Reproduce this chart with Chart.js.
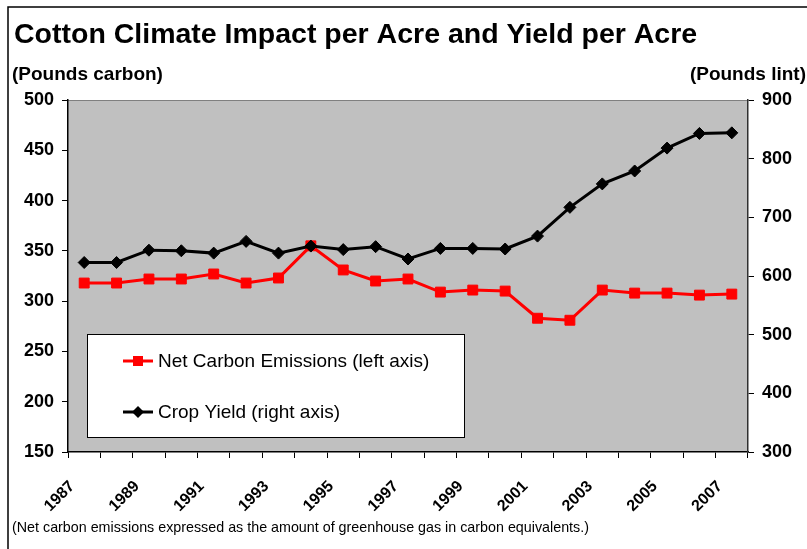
<!DOCTYPE html>
<html>
<head>
<meta charset="utf-8">
<script src="https://cdn.jsdelivr.net/npm/chart.js@4/dist/chart.umd.min.js"></script>
<style>
	body { margin: 0; background: #ffffff; }
	#wrap { width: 807px; height: 549px; }
</style>
</head>
<body>
<div id="wrap"><canvas id="myChart" width="807" height="549"></canvas></div>
<script>
// données
const years = ['1987', '1988', '1989', '1990', '1991', '1992', '1993', '1994', '1995', '1996', '1997',
	'1998', '1999', '2000', '2001', '2002', '2003', '2004', '2005', '2006', '2007'];
const carbon = [318, 318, 322, 322, 327, 318, 323, 355, 331, 320, 322, 309, 311, 310, 283, 281, 311, 308, 308, 306, 307];
const cropYield = [623, 623, 644, 643, 639, 659, 639, 651, 645, 650, 629, 647, 647, 646, 668, 717, 757, 779, 818, 843, 844];

const titre = 'Cotton Climate Impact per Acre and Yield per Acre';
const titreGauche = '(Pounds carbon)';
const titreDroite = '(Pounds lint)';
const noteBas = '(Net carbon emissions expressed as the amount of greenhouse gas in carbon equivalents.)';
const legendeCarbon = 'Net Carbon Emissions (left axis)';
const legendeYield = 'Crop Yield (right axis)';

const police = '"Liberation Sans", Arial, sans-serif';

// fond gris + cadre + textes + légende
const decor = {
	id: 'decor',
	beforeDraw: function(chart) {
		var ctx = chart.ctx;
		var a = chart.chartArea;
		ctx.save();
		ctx.fillStyle = '#c0c0c0';
		ctx.fillRect(a.left, a.top, a.right - a.left, a.bottom - a.top);
		ctx.strokeStyle = '#808080';
		ctx.lineWidth = 1;
		ctx.beginPath();
		ctx.moveTo(a.left, a.top + 0.5);
		ctx.lineTo(a.right, a.top + 0.5);
		ctx.stroke();
		ctx.restore();
	},
	beforeDatasetsDraw: function(chart) {
		var ctx = chart.ctx;
		var a = chart.chartArea;
		var bx = a.left + 19, by = a.top + 234, bw = 377, bh = 103;
		ctx.save();
		ctx.fillStyle = '#ffffff';
		ctx.fillRect(bx, by, bw, bh);
		ctx.strokeStyle = '#000000';
		ctx.lineWidth = 1;
		ctx.strokeRect(bx + 0.5, by + 0.5, bw, bh);

		// entrées de légende
		var items = [
			{ color: '#ff0000', marker: 'rect', text: legendeCarbon, y: by + 27 },
			{ color: '#000000', marker: 'diamond', text: legendeYield, y: by + 78 }
		];
		items.forEach(function(it) {
			ctx.strokeStyle = it.color;
			ctx.fillStyle = it.color;
			ctx.lineWidth = 3;
			ctx.beginPath();
			ctx.moveTo(bx + 36, it.y);
			ctx.lineTo(bx + 66, it.y);
			ctx.stroke();
			var cx = bx + 51;
			ctx.beginPath();
			if (it.marker === 'rect') {
				ctx.rect(cx - 5, it.y - 5, 10, 10);
			} else {
				ctx.moveTo(cx, it.y - 6);
				ctx.lineTo(cx + 6, it.y);
				ctx.lineTo(cx, it.y + 6);
				ctx.lineTo(cx - 6, it.y);
				ctx.closePath();
			}
			ctx.fill();
			ctx.fillStyle = '#000000';
			ctx.font = '19px ' + police;
			ctx.textAlign = 'left';
			ctx.textBaseline = 'middle';
			ctx.fillText(it.text, bx + 71, it.y + 1);
		});
		ctx.restore();
	},
	afterDraw: function(chart) {
		var ctx = chart.ctx;
		ctx.save();
		// cadre
		ctx.strokeStyle = '#000000';
		ctx.lineWidth = 1.5;
		ctx.beginPath();
		ctx.moveTo(8, 560);
		ctx.lineTo(8, 7);
		ctx.lineTo(820, 7);
		ctx.stroke();

		ctx.fillStyle = '#000000';
		ctx.textBaseline = 'middle';
		ctx.textAlign = 'left';
		ctx.font = 'bold 28.5px ' + police;
		ctx.fillText(titre, 14, 35);
		ctx.font = 'bold 19px ' + police;
		ctx.fillText(titreGauche, 12, 75);
		ctx.textAlign = 'right';
		ctx.fillText(titreDroite, 806, 75);
		ctx.textAlign = 'left';
		ctx.font = '14.3px ' + police;
		ctx.fillText(noteBas, 12, 528);
		ctx.restore();
	}
};

var canvas = document.getElementById('myChart');
var ctx = canvas.getContext('2d');

var chart = new Chart(ctx, {
	type: 'line',
	data: {
		labels: years,
		datasets: [
		{
			label: legendeYield,
			data: cropYield,
			yAxisID: 'y1',
			borderColor: '#000000',
			backgroundColor: '#000000',
			borderWidth: 3,
			pointStyle: 'rectRot',
			pointRadius: 6,
			pointBorderWidth: 1,
			fill: false,
			tension: 0,
			order: 0
		},
		{
			label: legendeCarbon,
			data: carbon,
			yAxisID: 'y',
			borderColor: '#ff0000',
			backgroundColor: '#ff0000',
			borderWidth: 3,
			pointStyle: 'rect',
			pointRadius: 7,
			pointBorderWidth: 1,
			fill: false,
			tension: 0,
			order: 1
		}]
	},
	options: {
		responsive: false,
		animation: false,
		layout: {
			padding: { top: 100, left: 0, right: 0, bottom: 0 },
			autoPadding: false
		},
		scales: {
			x: {
				type: 'category',
				offset: true,
				grid: {
					offset: true,
					drawOnChartArea: false,
					drawTicks: true,
					tickLength: 6,
					tickColor: '#000000'
				},
				border: { display: true, color: '#000000', width: 1.5 },
				ticks: {
					autoSkip: false,
					minRotation: 45,
					maxRotation: 45,
					padding: 19,
					labelOffset: -12,
					color: '#000000',
					font: { family: police, size: 16, weight: 'bold' },
					callback: function(value, index) {
						return index % 2 === 0 ? this.getLabelForValue(value) : '';
					}
				},
				afterFit: function(scale) { scale.height = 97; }
			},
			y: {
				position: 'left',
				min: 150,
				max: 500,
				grid: {
					drawOnChartArea: false,
					tickLength: 6,
					tickColor: '#000000'
				},
				border: { display: true, color: '#000000', width: 1.5 },
				ticks: {
					stepSize: 50,
					padding: 8,
					color: '#000000',
					font: { family: police, size: 18, weight: 'bold' }
				},
				afterFit: function(scale) { scale.width = 68; }
			},
			y1: {
				position: 'right',
				min: 300,
				max: 900,
				grid: {
					drawOnChartArea: false,
					tickLength: 6,
					tickColor: '#000000'
				},
				border: { display: true, color: '#303030', width: 1.5 },
				ticks: {
					stepSize: 100,
					padding: 8,
					color: '#000000',
					font: { family: police, size: 18, weight: 'bold' }
				},
				afterFit: function(scale) { scale.width = 59; }
			}
		},
		plugins: {
			legend: { display: false },
			title: { display: false },
			tooltip: { enabled: false }
		}
	},
	plugins: [decor]
});
</script>
</body>
</html>
